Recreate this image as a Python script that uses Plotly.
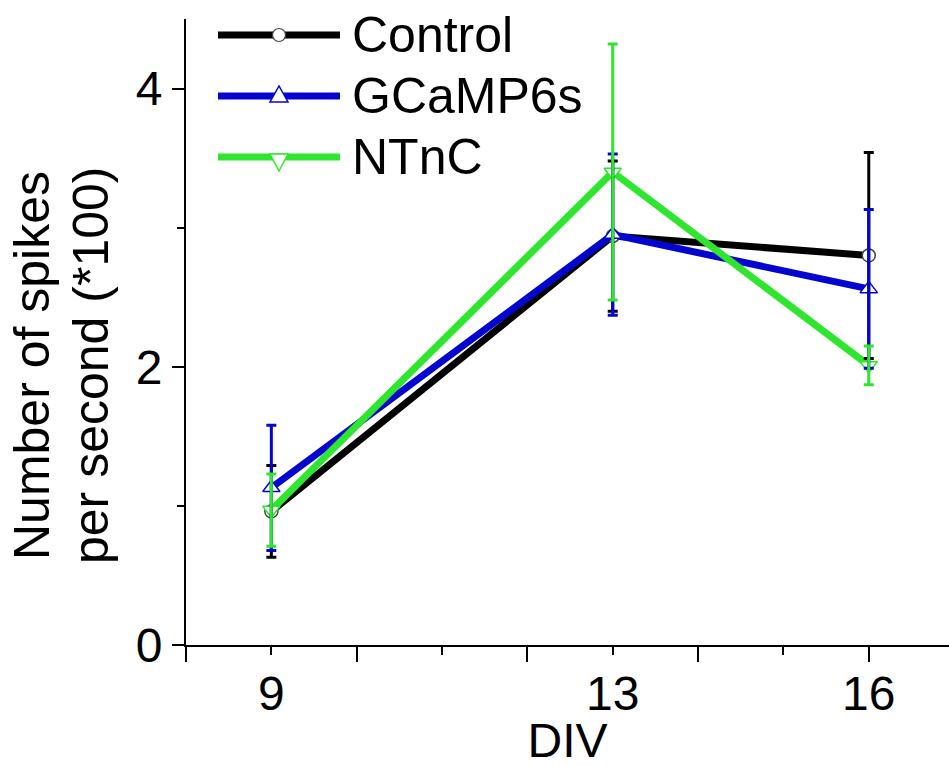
import plotly.graph_objects as go

# Mean firing rate (spikes per second, in units of 100) and error per culture age
div = [9, 13, 16]
series_names = ["Control", "GCaMP6s", "NTnC"]
control_mean = [0.96, 2.94, 2.80]
control_err = [0.33, 0.54, 0.74]
gcamp_mean = [1.13, 2.95, 2.56]
gcamp_err = [0.45, 0.58, 0.57]
ntnc_mean = [0.97, 3.40, 2.01]
ntnc_err = [0.26, 0.92, 0.14]
x_tick_labels = ["9", "13", "16"]
y_tick_vals = [0, 2, 4]
y_tick_labels = ["0", "2", "4"]

BLACK = "#000000"
BLUE = "#0505D0"
GREEN = "#2DE62D"
FONT = "Liberation Sans, Arial, sans-serif"

styles = [
    dict(color=BLACK, symbol="circle", size=13, edge="#444444"),
    dict(color=BLUE, symbol="triangle-up", size=15, edge=BLUE),
    dict(color=GREEN, symbol="triangle-down", size=15, edge=GREEN),
]
means = [control_mean, gcamp_mean, ntnc_mean]
errs = [control_err, gcamp_err, ntnc_err]

fig = go.Figure()

# connecting lines with white-filled markers (bottom x axis carries the ticks)
for name, m, st in zip(series_names, means, styles):
    fig.add_trace(go.Scatter(
        x=div, y=m, name=name, mode="lines+markers",
        line=dict(color=st["color"], width=7),
        marker=dict(symbol=st["symbol"], size=st["size"], color="white",
                    line=dict(color=st["edge"], width=1.5)),
        showlegend=False, hoverinfo="skip", xaxis="x", yaxis="y",
    ))

# error bars on the overlaid axis, so they sit above every line
for name, m, e, st in zip(series_names, means, errs, styles):
    fig.add_trace(go.Scatter(
        x=div, y=m, name=name, mode="markers",
        marker=dict(size=1, opacity=0),
        error_y=dict(type="data", array=e, visible=True, color=st["color"],
                     thickness=3, width=5),
        showlegend=False, hoverinfo="skip", xaxis="x2", yaxis="y",
    ))

# plot area in pixels
L, T, W, H = 186, 19, 763, 626


def px(xp):
    return (xp - L) / W


def py(yp):
    return (T + H - yp) / H


# legend: long line keys with a marker in the middle
shapes = []
annotations = []
legend_rows = [35, 96, 157]
key_x0, key_x1, key_mid = 218, 340, 279
for name, st, row in zip(series_names, styles, legend_rows):
    shapes.append(dict(type="line", xref="paper", yref="paper",
                       x0=px(key_x0), x1=px(key_x1), y0=py(row), y1=py(row),
                       line=dict(color=st["color"], width=7)))
    common = dict(xref="paper", yref="paper", xsizemode="pixel", ysizemode="pixel",
                  xanchor=px(key_mid), yanchor=py(row), fillcolor="white")
    if st["symbol"] == "circle":
        shapes.append(dict(type="circle", x0=-6.5, x1=6.5, y0=-6.5, y1=6.5,
                           line=dict(color="#444444", width=1.2), **common))
    elif st["symbol"] == "triangle-up":
        shapes.append(dict(type="path", path="M -9,-6 L 9,-6 L 0,10 Z",
                           line=dict(color=st["color"], width=1.5), **common))
    else:
        shapes.append(dict(type="path", path="M -9,3 L 9,3 L 0,-14 Z",
                           line=dict(color=st["color"], width=1.5), **common))
    annotations.append(dict(text=name, xref="paper", yref="paper",
                            x=px(350), y=py(row - 0.5), xanchor="left", yanchor="middle",
                            showarrow=False, font=dict(size=50, color="black", family=FONT)))

# two-line y-axis title
for text, xs in [("Number of spikes", -154), ("per second (*100)", -95)]:
    annotations.append(dict(text=text, xref="paper", yref="paper", x=0, y=py(366),
                            xshift=xs, xanchor="center", yanchor="middle",
                            textangle=-90, showarrow=False,
                            font=dict(size=50, color="black", family=FONT)))

x_range = [8, 16.94]

fig.update_layout(
    width=949, height=767,
    margin=dict(l=L, r=0, t=T, b=767 - T - H, pad=0),
    paper_bgcolor="white", plot_bgcolor="white",
    font=dict(family=FONT, color="black"),
    showlegend=False,
    shapes=shapes, annotations=annotations,
    xaxis=dict(
        range=x_range, showline=True, linewidth=2, linecolor="black",
        ticks="outside", tickvals=[8, 10, 12, 14, 16], ticktext=[""] * 5,
        ticklen=15, tickwidth=2, tickcolor="black",
        minor=dict(tickmode="array", tickvals=[9, 11, 13, 15], ticks="outside",
                   ticklen=8, tickwidth=2, tickcolor="black", showgrid=False),
        showgrid=False, zeroline=False, fixedrange=True,
    ),
    xaxis2=dict(
        range=x_range, overlaying="x", anchor="y", side="bottom",
        tickmode="array", tickvals=div, ticktext=x_tick_labels,
        ticks="outside", ticklen=6, tickcolor="rgba(0,0,0,0)",
        tickfont=dict(size=48, color="black", family=FONT),
        showline=False, showgrid=False, zeroline=False, fixedrange=True,
        title=dict(text="DIV", font=dict(size=48, color="black", family=FONT), standoff=10),
    ),
    yaxis=dict(
        range=[0, 4.5], showline=True, linewidth=2, linecolor="black",
        ticks="outside", tickvals=y_tick_vals, ticktext=y_tick_labels,
        ticklen=12, tickwidth=2, tickcolor="black",
        tickfont=dict(size=48, color="black", family=FONT),
        minor=dict(tickmode="array", tickvals=[1, 3], ticks="outside",
                   ticklen=7, tickwidth=2, tickcolor="black", showgrid=False),
        showgrid=False, zeroline=False, fixedrange=True,
    ),
)

fig.write_html("out.html")
